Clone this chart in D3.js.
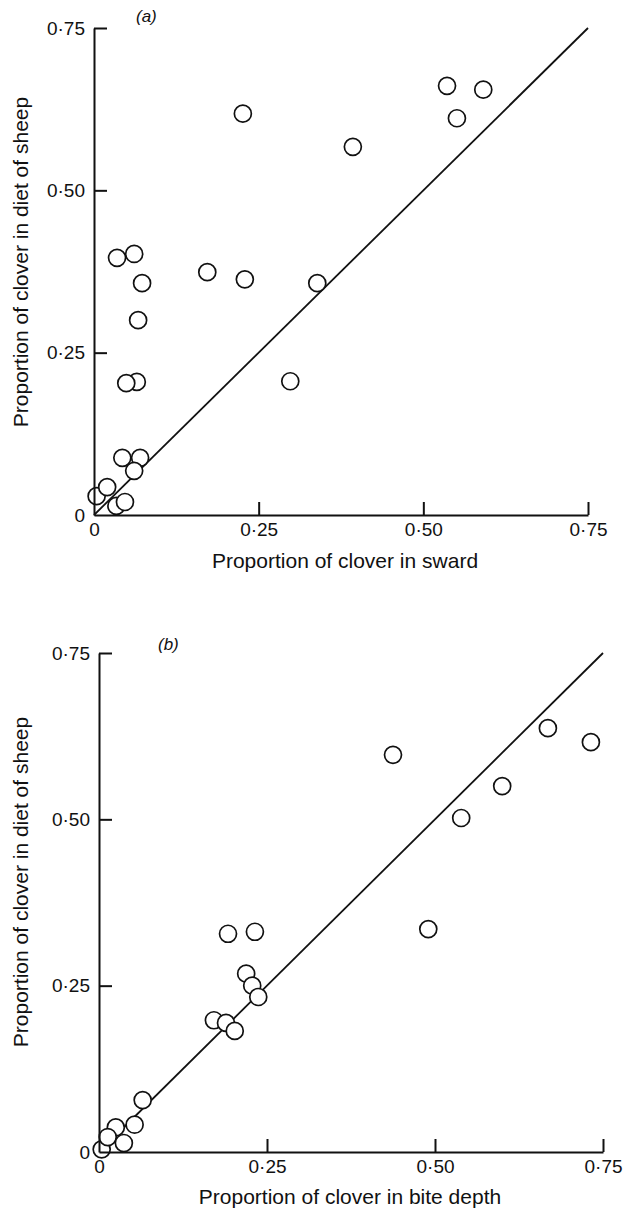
<!DOCTYPE html>
<html>
<head>
<meta charset="utf-8">
<script src="https://cdn.jsdelivr.net/npm/d3@7"></script>
<style>
  body { margin: 0; background: #fff; }
  svg text { font-family: "Liberation Sans", Arial, sans-serif; fill: #111; }
</style>
</head>
<body>
<div id="chart"></div>
<script>
// Tick values and their printed labels (same on both axes of both panels)
const tickValues = [0, 0.25, 0.5, 0.75];
const tickLabels = ["0", "0·25", "0·50", "0·75"];

// Panel (a): proportion of clover in sward vs in diet (listed in drawing order)
const swardA = [0.226, 0.393, 0.536, 0.591, 0.551, 0.035, 0.061, 0.073, 0.172, 0.229, 0.339,
                0.067, 0.298, 0.065, 0.049, 0.070, 0.043, 0.061, 0.004, 0.020, 0.034, 0.047];
const dietA  = [0.618, 0.567, 0.661, 0.655, 0.611, 0.396, 0.402, 0.357, 0.374, 0.363, 0.357,
                0.300, 0.206, 0.205, 0.203, 0.088, 0.088, 0.068, 0.029, 0.043, 0.014, 0.020];

// Panel (b): proportion of clover in bite depth vs in diet
const biteB = [0.004, 0.025, 0.013, 0.037, 0.053, 0.065, 0.171, 0.189, 0.202, 0.192, 0.232,
               0.219, 0.228, 0.237, 0.4375, 0.49, 0.539, 0.600, 0.668, 0.732];
const dietB = [0.004, 0.037, 0.0225, 0.0135, 0.041, 0.078, 0.198, 0.194, 0.182, 0.328, 0.331,
               0.268, 0.250, 0.233, 0.597, 0.335, 0.502, 0.550, 0.637, 0.616];

// 1:1 line drawn in both panels
const lineEnds = [0, 0.75];

const width = 624, height = 1210;

const svg = d3.select("#chart")
    .append("svg")
    .attr("width", width)
    .attr("height", height);

const fmt = d => tickLabels[tickValues.indexOf(d)];

// Draw one scatter panel
function drawPanel(cfg) {
    const xScale = d3.scaleLinear().domain([0, 0.75]).range([cfg.left, cfg.right]);
    const yScale = d3.scaleLinear().domain([0, 0.75]).range([cfg.bottom, cfg.top]);

    const g = svg.append("g");

    // 1:1 line
    g.append("line")
        .attr("x1", xScale(lineEnds[0]))
        .attr("y1", yScale(lineEnds[0]))
        .attr("x2", xScale(lineEnds[1]))
        .attr("y2", yScale(lineEnds[1]))
        .attr("stroke", "#111")
        .attr("stroke-width", 1.8);

    // Open circles
    g.selectAll("circle")
        .data(cfg.xs.map((x, i) => ({ x: x, y: cfg.ys[i] })))
        .enter()
        .append("circle")
        .attr("cx", d => xScale(d.x))
        .attr("cy", d => yScale(d.y))
        .attr("r", 8.5)
        .attr("fill", "#fff")
        .attr("stroke", "#111")
        .attr("stroke-width", 1.7);

    // X axis, ticks pointing up
    const xAxis = g.append("g")
        .attr("transform", `translate(0,${cfg.bottom})`)
        .call(d3.axisBottom(xScale)
            .tickValues(tickValues)
            .tickFormat(fmt)
            .tickSizeInner(-13)
            .tickSizeOuter(0)
            .tickPadding(8));

    // Y axis, ticks pointing right
    const yAxis = g.append("g")
        .attr("transform", `translate(${cfg.left},0)`)
        .call(d3.axisLeft(yScale)
            .tickValues(tickValues)
            .tickFormat(fmt)
            .tickSizeInner(-13)
            .tickSizeOuter(0)
            .tickPadding(9));

    [xAxis, yAxis].forEach(ax => {
        ax.select(".domain").attr("stroke", "#111").attr("stroke-width", 2);
        ax.selectAll(".tick line").attr("stroke", "#111").attr("stroke-width", 2);
        ax.selectAll(".tick text")
            .attr("font-size", 19)
            .attr("font-family", "Liberation Sans, Arial, sans-serif")
            .attr("fill", "#111");
    });
    // zero ticks sit on the other axis: no extra tick line
    yAxis.selectAll(".tick").filter(d => d === 0).select("line").remove();
    xAxis.selectAll(".tick").filter(d => d === 0).select("line").remove();

    // Axis titles
    g.append("text")
        .attr("x", cfg.xTitleX)
        .attr("y", cfg.xTitleY)
        .attr("text-anchor", "middle")
        .attr("font-size", 21)
        .text(cfg.xTitle);

    g.append("text")
        .attr("transform", `translate(${cfg.yTitleX},${cfg.yTitleY}) rotate(-90)`)
        .attr("text-anchor", "middle")
        .attr("font-size", 21)
        .text("Proportion of clover in diet of sheep");

    // Panel letter
    g.append("text")
        .attr("x", cfg.labelX)
        .attr("y", cfg.labelY)
        .attr("font-size", 17)
        .attr("font-style", "italic")
        .text(cfg.label);
}

drawPanel({
    xs: swardA, ys: dietA,
    left: 94, right: 588, top: 28, bottom: 515,
    xTitle: "Proportion of clover in sward", xTitleX: 345, xTitleY: 568,
    yTitleX: 28, yTitleY: 262,
    label: "(a)", labelX: 136, labelY: 22
});

drawPanel({
    xs: biteB, ys: dietB,
    left: 99, right: 603, top: 653, bottom: 1152,
    xTitle: "Proportion of clover in bite depth", xTitleX: 350, xTitleY: 1204,
    yTitleX: 28, yTitleY: 882,
    label: "(b)", labelX: 158, labelY: 650
});
</script>
</body>
</html>
